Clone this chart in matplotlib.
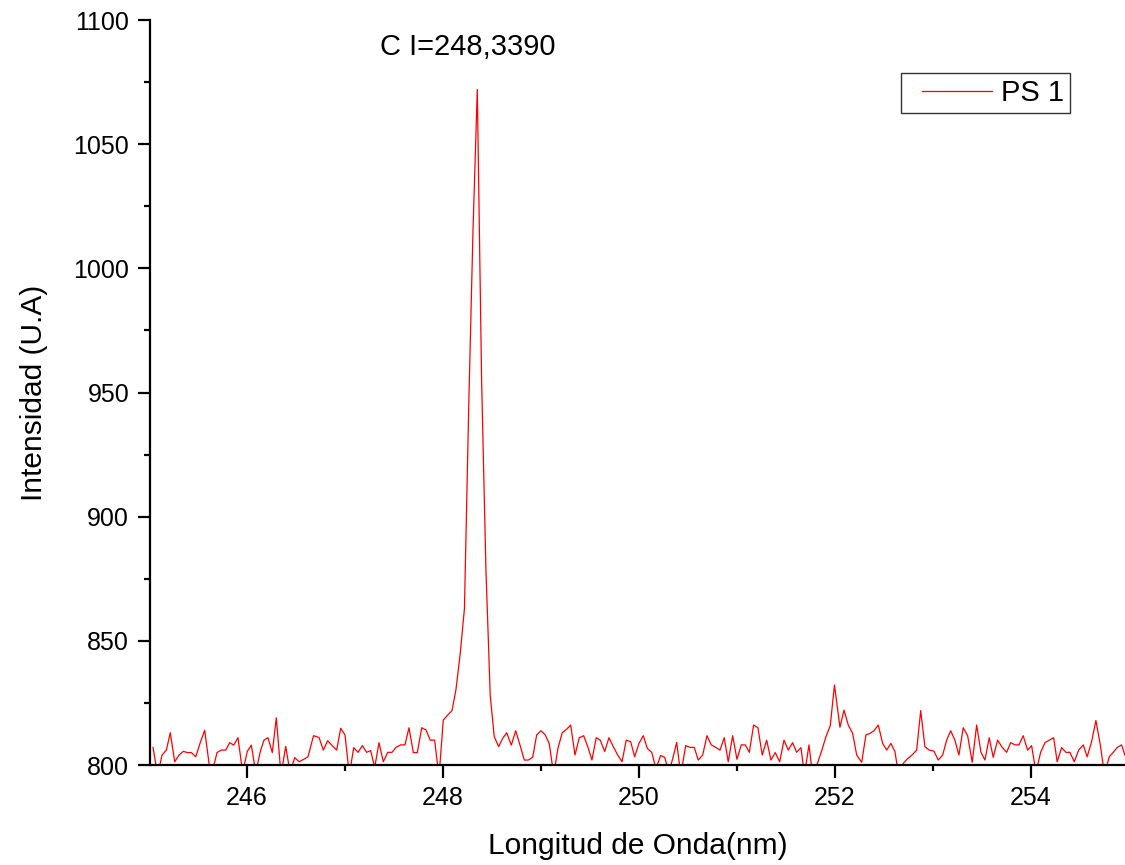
import matplotlib
matplotlib.use("Agg")
import matplotlib.pyplot as plt
from matplotlib.ticker import MultipleLocator
from matplotlib.lines import Line2D
from matplotlib.legend_handler import HandlerLine2D

plt.rcParams['font.family'] = ['Liberation Sans', 'DejaVu Sans']

wavelength = [
    245.041, 245.087, 245.133, 245.177, 245.217, 245.262, 245.306, 245.350, 245.391, 245.432,
    245.477, 245.520, 245.568, 245.631, 245.694, 245.738, 245.783, 245.823, 245.864, 245.908,
    245.955, 246.003, 246.044, 246.089, 246.136, 246.173, 246.214, 246.258, 246.299, 246.347,
    246.395, 246.439, 246.487, 246.531, 246.579, 246.622, 246.679, 246.735, 246.779, 246.823,
    246.870, 246.915, 246.956, 247.000, 247.044, 247.089, 247.133, 247.177, 247.221, 247.262,
    247.303, 247.347, 247.391, 247.436, 247.480, 247.520, 247.568, 247.612, 247.653, 247.697,
    247.738, 247.783, 247.827, 247.870, 247.915, 247.959, 248.003, 248.048, 248.092, 248.133,
    248.176, 248.219, 248.263, 248.306, 248.350, 248.394, 248.438, 248.482, 248.523, 248.568,
    248.609, 248.650, 248.697, 248.742, 248.786, 248.830, 248.871, 248.915, 248.956, 249.000,
    249.044, 249.085, 249.130, 249.173, 249.217, 249.262, 249.303, 249.347, 249.391, 249.436,
    249.477, 249.520, 249.564, 249.605, 249.650, 249.694, 249.738, 249.783, 249.827, 249.870,
    249.915, 249.956, 250.000, 250.044, 250.085, 250.130, 250.173, 250.221, 250.262, 250.306,
    250.347, 250.385, 250.426, 250.477, 250.520, 250.564, 250.605, 250.650, 250.694, 250.738,
    250.783, 250.827, 250.870, 250.911, 250.956, 251.000, 251.044, 251.085, 251.126, 251.170,
    251.214, 251.258, 251.303, 251.347, 251.391, 251.436, 251.480, 251.524, 251.568, 251.609,
    251.653, 251.689, 251.735, 251.772, 251.816, 251.862, 251.908, 251.952, 251.995, 252.051,
    252.092, 252.136, 252.181, 252.222, 252.273, 252.316, 252.357, 252.398, 252.442, 252.487,
    252.528, 252.571, 252.612, 252.646, 252.694, 252.740, 252.786, 252.834, 252.875, 252.918,
    252.962, 253.010, 253.054, 253.099, 253.140, 253.181, 253.224, 253.265, 253.309, 253.354,
    253.401, 253.446, 253.490, 253.531, 253.574, 253.615, 253.660, 253.707, 253.752, 253.793,
    253.837, 253.878, 253.921, 253.966, 254.007, 254.051, 254.099, 254.143, 254.187, 254.232,
    254.268, 254.313, 254.357, 254.398, 254.442, 254.487, 254.534, 254.574, 254.619, 254.663,
    254.711, 254.750, 254.799, 254.840, 254.881, 254.925, 254.959,
]

intensity = [
    807.1, 796.0, 804.0, 806.0, 813.0, 801.3, 804.0, 805.5, 805.0, 805.0,
    803.3, 808.7, 814.0, 795.0, 805.0, 806.0, 806.0, 809.0, 808.0, 811.0,
    797.0, 805.5, 808.0, 797.0, 805.5, 810.0, 811.0, 805.0, 819.0, 796.0,
    807.5, 797.0, 803.0, 801.3, 802.3, 803.3, 811.8, 811.1, 806.0, 809.8,
    807.8, 806.0, 814.8, 812.1, 796.0, 807.0, 805.1, 807.8, 805.1, 805.8,
    799.0, 809.0, 801.3, 805.1, 805.1, 807.1, 808.1, 808.1, 815.0, 805.0,
    805.0, 815.0, 814.1, 810.0, 810.0, 795.0, 818.1, 820.1, 821.9, 830.5,
    845.0, 863.0, 945.0, 1015.0, 1072.0, 955.0, 879.0, 828.0, 811.4, 807.4,
    810.7, 813.0, 808.0, 813.8, 808.0, 802.0, 802.0, 803.1, 812.1, 813.8,
    812.1, 808.5, 796.0, 806.7, 813.0, 814.4, 816.1, 804.0, 811.0, 811.8,
    807.4, 802.0, 811.0, 810.0, 805.4, 811.0, 807.4, 804.0, 801.3, 810.0,
    809.4, 803.3, 808.7, 811.8, 806.7, 805.1, 798.5, 803.8, 803.1, 797.0,
    803.0, 809.1, 796.0, 807.8, 807.1, 807.1, 802.0, 804.0, 811.8, 808.1,
    807.1, 806.0, 811.0, 801.3, 811.8, 802.3, 808.1, 808.1, 805.1, 816.1,
    815.0, 804.0, 810.0, 802.0, 805.0, 801.3, 810.0, 806.0, 809.0, 805.1,
    807.0, 796.0, 808.1, 796.0, 800.0, 805.4, 811.4, 815.8, 832.2, 815.2,
    822.1, 816.1, 812.7, 804.0, 801.1, 812.1, 812.7, 813.8, 816.1, 808.7,
    806.0, 808.7, 805.4, 797.0, 800.5, 802.5, 804.0, 806.0, 821.9, 807.4,
    806.0, 805.6, 802.0, 804.0, 810.0, 813.8, 810.0, 804.0, 815.0, 811.8,
    801.1, 816.1, 805.1, 802.0, 811.0, 803.1, 810.0, 807.1, 805.1, 809.0,
    808.1, 808.1, 811.8, 806.0, 807.8, 797.0, 805.1, 809.0, 810.0, 811.0,
    801.3, 807.0, 805.1, 805.1, 801.3, 806.0, 808.1, 803.3, 809.4, 817.9,
    807.4, 796.0, 803.3, 805.1, 807.1, 808.1, 804.0,
]

series_label = "PS 1"
annotation = "C I=248,3390"
x_label = "Longitud de Onda(nm)"
y_label = "Intensidad (U.A)"

fig = plt.figure(figsize=(11.25, 8.65), dpi=100)
ax = fig.add_axes([150 / 1125, 100 / 865, 975 / 1125, 745 / 865])

ax.plot(wavelength, intensity, color="#FF0000", lw=0.9, label=series_label)

ax.set_xlim(245.01, 254.96)
ax.set_ylim(800, 1100)

ax.spines['top'].set_visible(False)
ax.spines['right'].set_visible(False)
for s in ('left', 'bottom'):
    ax.spines[s].set_linewidth(1.6)

ax.xaxis.set_major_locator(MultipleLocator(2))
ax.xaxis.set_minor_locator(MultipleLocator(1))
ax.yaxis.set_major_locator(MultipleLocator(50))
ax.yaxis.set_minor_locator(MultipleLocator(25))
ax.tick_params(which='major', direction='out', length=9, width=1.6, labelsize=18, pad=6)
ax.tick_params(which='minor', direction='out', length=4.5, width=1.6)

ax.set_xlabel(x_label, fontsize=21.5, labelpad=16)
ax.set_ylabel(y_label, fontsize=21.5, labelpad=18)

ax.text(248.255, 1089.2, annotation, fontsize=21, ha='center', va='center')

leg = ax.legend(loc='upper right', bbox_to_anchor=(0.9436, 0.929),
                bbox_transform=ax.transAxes, fontsize=21, frameon=True, fancybox=False,
                handlelength=2.95, borderpad=0.2, handletextpad=0.3, borderaxespad=0,
                handler_map={Line2D: HandlerLine2D(xpad=0.55)})
leg.get_frame().set_edgecolor('black')
leg.get_frame().set_linewidth(1.0)

fig.savefig("out.png", dpi=100)
